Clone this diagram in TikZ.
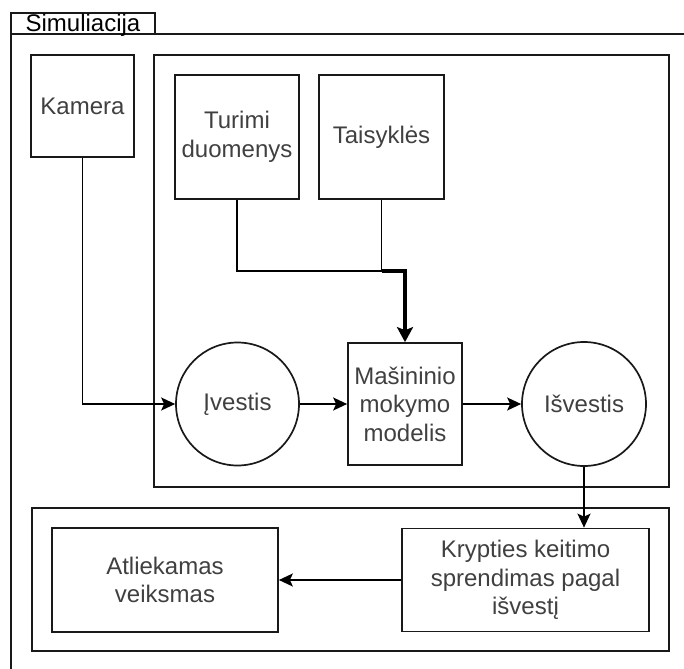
\documentclass[tikz,border=0pt]{standalone}
\usepackage{fontspec}
\setmainfont{Liberation Sans}
\usetikzlibrary{arrows.meta,calc}
\begin{document}
\begin{tikzpicture}[x=1pt,y=-1pt,
  every node/.style={font=\fontsize{24}{28.5}\selectfont, text=black!75, inner sep=0pt, align=center},
  boxline/.style={draw=black!90, line width=1.7pt},
  block/.style={boxline, rectangle},
  circ/.style={boxline, circle},
  link/.style={draw=black, line width=1.8pt},
  arr/.style={link, -{Stealth[length=14pt,width=13pt,inset=3pt]}},
  fatarr/.style={draw=black, line width=3.2pt, -{Stealth[length=15pt,width=16pt,inset=3pt]}}]
  \useasboundingbox (0,0) rectangle (684,668);
  \clip (0,0) rectangle (684,668);
  \fill[white] (0,0) rectangle (684,668);

  % outer frame with its title tab
  \draw[boxline] (11,34) rectangle (720,720);
  \draw[boxline] (11,13) rectangle (155,34);
  \node[text=black, anchor=base] (title) at (83,32) {Simuliacija};

  % containers
  \draw[boxline] (154,55) rectangle (669,487);
  \draw[boxline] (32,508) rectangle (669,651);

  % blocks
  \node[block, minimum width=103pt, minimum height=102pt] (kamera) at (82.5,106) {Kamera};
  \node[block, minimum width=124pt, minimum height=124pt] (turimi) at (237,137) {Turimi\\duomenys};
  \node[block, minimum width=125pt, minimum height=124pt] (taisykles) at (381.5,137) {Taisyklės};
  \node[circ, minimum size=123pt] (ivestis) at (237.5,404) {Įvestis};
  \node[block, minimum width=114pt, minimum height=122pt] (modelis) at (405,404) {Mašininio\\mokymo\\modelis};
  \node[circ, minimum size=124pt] (isvestis) at (584,404) {Išvestis};
  \node[block, minimum width=247pt, minimum height=103pt] (krypties) at (525.5,580) {Krypties keitimo\\sprendimas pagal\\išvestį};
  \node[block, minimum width=226pt, minimum height=104pt] (veiksmas) at (165,580) {Atliekamas\\veiksmas};

  % connectors
  \coordinate (join) at (381.5,271);
  \draw[arr] (kamera.south) |- (ivestis.west);
  \draw[link] (turimi.south) |- (join);
  \draw[link] (taisykles.south) -- (join);
  \draw[fatarr] (join) -| (modelis.north);
  \draw[arr] (ivestis.east) -- (modelis.west);
  \draw[arr] (modelis.east) -- (isvestis.west);
  \draw[arr] (isvestis.south) -- (isvestis.south |- krypties.north);
  \draw[arr] (krypties.west) -- (veiksmas.east);
\end{tikzpicture}
\end{document}
